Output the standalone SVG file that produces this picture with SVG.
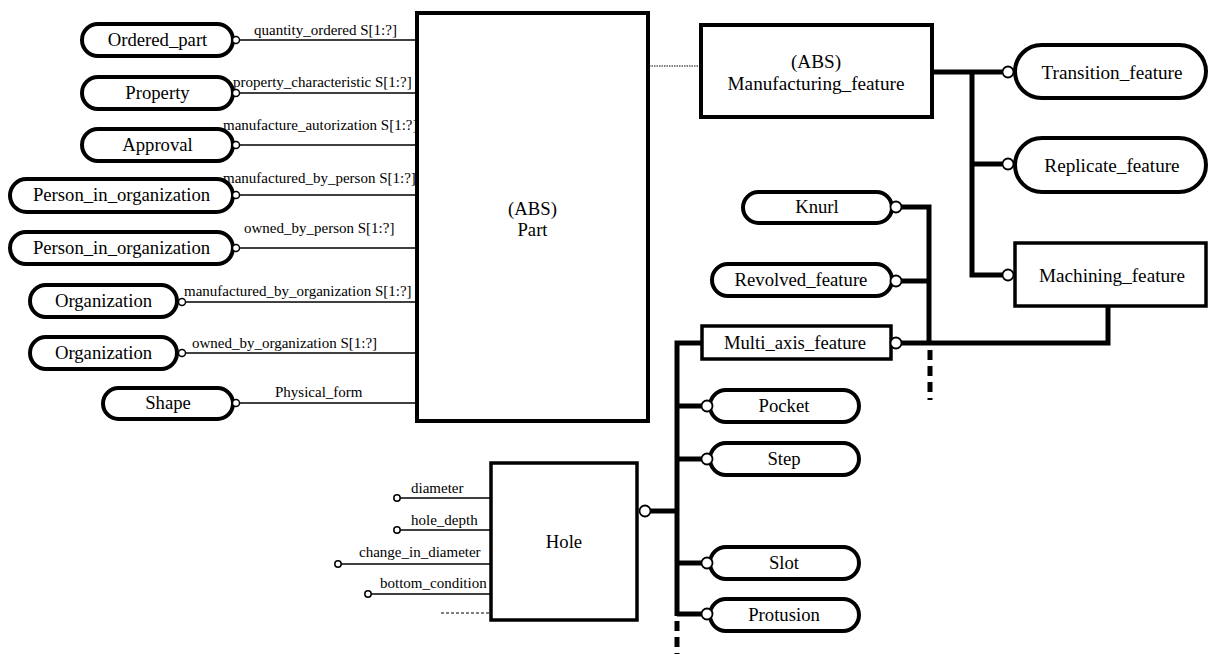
<svg xmlns="http://www.w3.org/2000/svg" width="1209" height="654" viewBox="0 0 1209 654">
  <style>
    text { font-family: "Liberation Serif", "Times New Roman", serif; fill: #000; }
    .lbl { font-size: 18.7px; text-anchor: middle; }
    .lbl-l { font-size: 19.2px; text-anchor: middle; }
    .attr { font-size: 15px; }
    .pill { fill: #fff; stroke: #000; stroke-width: 4; }
    .box { fill: #fff; stroke: #000; stroke-width: 4; }
    .box3 { fill: #fff; stroke: #000; stroke-width: 3.5; }
    .thin { stroke: #000; stroke-width: 1.5; fill: none; }
    .thick { stroke: #000; stroke-width: 5; fill: none; }
    .dash-thick { stroke: #000; stroke-width: 5; fill: none; stroke-dasharray: 10 6; }
    .dash-thin { stroke: #000; stroke-width: 1; fill: none; stroke-dasharray: 3 2; }
    .dotted { stroke: #000; stroke-width: 1; fill: none; stroke-dasharray: 1.5 1; }
    .oc { fill: #fff; stroke: #000; stroke-width: 1.5; }
    .ocb { fill: #fff; stroke: #000; stroke-width: 1.8; }
  </style>

  <!-- entity nodes -->
  <g id="part">
    <rect class="box" x="417" y="13" width="231" height="408"/>
    <text class="lbl" x="532.5" y="215">(ABS)</text>
    <text class="lbl" x="532.5" y="236">Part</text>
  </g>
  <g id="manufacturing_feature">
    <rect class="box" x="701" y="25" width="231" height="92"/>
    <text class="lbl-l" x="816" y="68">(ABS)</text>
    <text class="lbl-l" x="816" y="90">Manufacturing_feature</text>
  </g>
  <g id="ordered_part">
    <rect class="pill" x="82" y="24" width="151" height="32" rx="16"/>
    <text class="lbl" x="157.5" y="46">Ordered_part</text>
  </g>
  <g id="property">
    <rect class="pill" x="82" y="77" width="151" height="32" rx="16"/>
    <text class="lbl" x="157.5" y="99">Property</text>
  </g>
  <g id="approval">
    <rect class="pill" x="82" y="129" width="151" height="32" rx="16"/>
    <text class="lbl" x="157.5" y="151">Approval</text>
  </g>
  <g id="person_in_organization_1">
    <rect class="pill" x="10" y="179" width="223" height="33" rx="16.5"/>
    <text class="lbl" x="121.5" y="201">Person_in_organization</text>
  </g>
  <g id="person_in_organization_2">
    <rect class="pill" x="10" y="232" width="223" height="32" rx="16"/>
    <text class="lbl" x="121.5" y="254">Person_in_organization</text>
  </g>
  <g id="organization_1">
    <rect class="pill" x="30" y="285" width="147" height="32" rx="16"/>
    <text class="lbl" x="103.5" y="307">Organization</text>
  </g>
  <g id="organization_2">
    <rect class="pill" x="30" y="337" width="147" height="32" rx="16"/>
    <text class="lbl" x="103.5" y="359">Organization</text>
  </g>
  <g id="shape">
    <rect class="pill" x="103" y="388" width="130" height="31" rx="15.5"/>
    <text class="lbl" x="168" y="409">Shape</text>
  </g>
  <g id="transition_feature">
    <rect class="pill" x="1015" y="45" width="191" height="53" rx="26.5"/>
    <text class="lbl-l" x="1112" y="79">Transition_feature</text>
  </g>
  <g id="replicate_feature">
    <rect class="pill" x="1015" y="138" width="191" height="54" rx="27"/>
    <text class="lbl-l" x="1112" y="172">Replicate_feature</text>
  </g>
  <g id="machining_feature">
    <rect class="box3" x="1015" y="243" width="191" height="63"/>
    <text class="lbl-l" x="1112" y="282">Machining_feature</text>
  </g>
  <g id="knurl">
    <rect class="pill" x="743" y="192" width="149" height="31" rx="15.5"/>
    <text class="lbl" x="817" y="213">Knurl</text>
  </g>
  <g id="revolved_feature">
    <rect class="pill" x="712" y="264" width="180" height="32" rx="16"/>
    <text class="lbl" x="801" y="286">Revolved_feature</text>
  </g>
  <g id="multi_axis_feature">
    <rect class="box3" x="702" y="326" width="189" height="33"/>
    <text class="lbl" x="795" y="349">Multi_axis_feature</text>
  </g>
  <g id="pocket">
    <rect class="pill" x="710" y="390" width="149" height="32" rx="16"/>
    <text class="lbl" x="784" y="412">Pocket</text>
  </g>
  <g id="step">
    <rect class="pill" x="710" y="443" width="149" height="32" rx="16"/>
    <text class="lbl" x="784" y="465">Step</text>
  </g>
  <g id="slot">
    <rect class="pill" x="710" y="547" width="149" height="32" rx="16"/>
    <text class="lbl" x="784" y="569">Slot</text>
  </g>
  <g id="protusion">
    <rect class="pill" x="710" y="599" width="149" height="32" rx="16"/>
    <text class="lbl" x="784" y="621">Protusion</text>
  </g>
  <g id="hole">
    <rect class="box3" x="491" y="463" width="146" height="157"/>
    <text class="lbl" x="564" y="548">Hole</text>
  </g>

  <!-- connectors -->
  <g id="connectors">
    <!-- Part attributes -->
    <line class="thin" x1="239" y1="40" x2="417" y2="40"/>
    <line class="thin" x1="239" y1="93" x2="417" y2="93"/>
    <line class="thin" x1="239" y1="145" x2="417" y2="145"/>
    <line class="thin" x1="239" y1="195" x2="417" y2="195"/>
    <line class="thin" x1="239" y1="248" x2="417" y2="248"/>
    <line class="thin" x1="186" y1="302" x2="417" y2="302"/>
    <line class="thin" x1="186" y1="353" x2="417" y2="353"/>
    <line class="thin" x1="239" y1="403" x2="417" y2="403"/>
    <circle class="oc" cx="236" cy="40" r="3.5"/>
    <circle class="oc" cx="236" cy="93" r="3.5"/>
    <circle class="oc" cx="236" cy="145" r="3.5"/>
    <circle class="oc" cx="236" cy="195" r="3.5"/>
    <circle class="oc" cx="236" cy="248" r="3.5"/>
    <circle class="oc" cx="182" cy="302" r="3.5"/>
    <circle class="oc" cx="182" cy="353" r="3.5"/>
    <circle class="oc" cx="236" cy="403" r="3.5"/>
    <text class="attr" x="254" y="35">quantity_ordered S[1:?]</text>
    <text class="attr" x="233" y="87">property_characteristic S[1:?]</text>
    <text class="attr" x="223" y="130">manufacture_autorization S[1:?]</text>
    <text class="attr" x="223" y="183">manufactured_by_person S[1:?]</text>
    <text class="attr" x="244" y="233">owned_by_person S[1:?]</text>
    <text class="attr" x="184" y="296">manufactured_by_organization S[1:?]</text>
    <text class="attr" x="192" y="348">owned_by_organization S[1:?]</text>
    <text class="attr" x="275" y="397">Physical_form</text>

    <!-- Part to Manufacturing_feature -->
    <line class="dotted" x1="649" y1="66" x2="701" y2="66"/>

    <!-- Manufacturing_feature subtypes -->
    <polyline class="thick" points="932,72 1002,72"/>
    <polyline class="thick" points="972,72 972,275 1002,275"/>
    <line class="thick" x1="972" y1="164" x2="1002" y2="164"/>
    <circle class="ocb" cx="1008" cy="72" r="5.5"/>
    <circle class="ocb" cx="1008" cy="164" r="5.5"/>
    <circle class="ocb" cx="1008" cy="275" r="5.5"/>

    <!-- Machining_feature subtypes -->
    <polyline class="thick" points="1108,306 1108,343 901,343"/>
    <polyline class="thick" points="901,207 929,207 929,345"/>
    <line class="thick" x1="901" y1="281" x2="929" y2="281"/>
    <line class="dash-thick" x1="930" y1="350" x2="930" y2="400"/>
    <circle class="ocb" cx="896" cy="207" r="5.5"/>
    <circle class="ocb" cx="896" cy="281" r="5.5"/>
    <circle class="ocb" cx="896" cy="343" r="5.5"/>

    <!-- Multi_axis_feature subtypes -->
    <polyline class="thick" points="702,343 677,343 677,616"/>
    <line class="thick" x1="677" y1="406" x2="702" y2="406"/>
    <line class="thick" x1="677" y1="459" x2="702" y2="459"/>
    <line class="thick" x1="677" y1="563" x2="702" y2="563"/>
    <line class="thick" x1="677" y1="614" x2="702" y2="614"/>
    <line class="thick" x1="650" y1="511" x2="677" y2="511"/>
    <line class="dash-thick" x1="677" y1="621" x2="677" y2="654"/>
    <circle class="ocb" cx="707" cy="406" r="5.5"/>
    <circle class="ocb" cx="707" cy="459" r="5.5"/>
    <circle class="ocb" cx="707" cy="563" r="5.5"/>
    <circle class="ocb" cx="707" cy="614" r="5.5"/>
    <circle class="ocb" cx="645" cy="511" r="5.5"/>

    <!-- Hole attributes -->
    <line class="thin" x1="400" y1="498" x2="491" y2="498"/>
    <line class="thin" x1="400" y1="530" x2="491" y2="530"/>
    <line class="thin" x1="341" y1="564" x2="491" y2="564"/>
    <line class="thin" x1="371" y1="594" x2="491" y2="594"/>
    <line class="dash-thin" x1="441" y1="613" x2="491" y2="613"/>
    <circle class="oc" cx="397" cy="498" r="3.2"/>
    <circle class="oc" cx="397" cy="530" r="3.2"/>
    <circle class="oc" cx="338" cy="564" r="3.2"/>
    <circle class="oc" cx="368" cy="594" r="3.2"/>
    <text class="attr" x="411" y="493">diameter</text>
    <text class="attr" x="411" y="525">hole_depth</text>
    <text class="attr" x="359" y="557">change_in_diameter</text>
    <text class="attr" x="380" y="588">bottom_condition</text>
  </g>
</svg>
